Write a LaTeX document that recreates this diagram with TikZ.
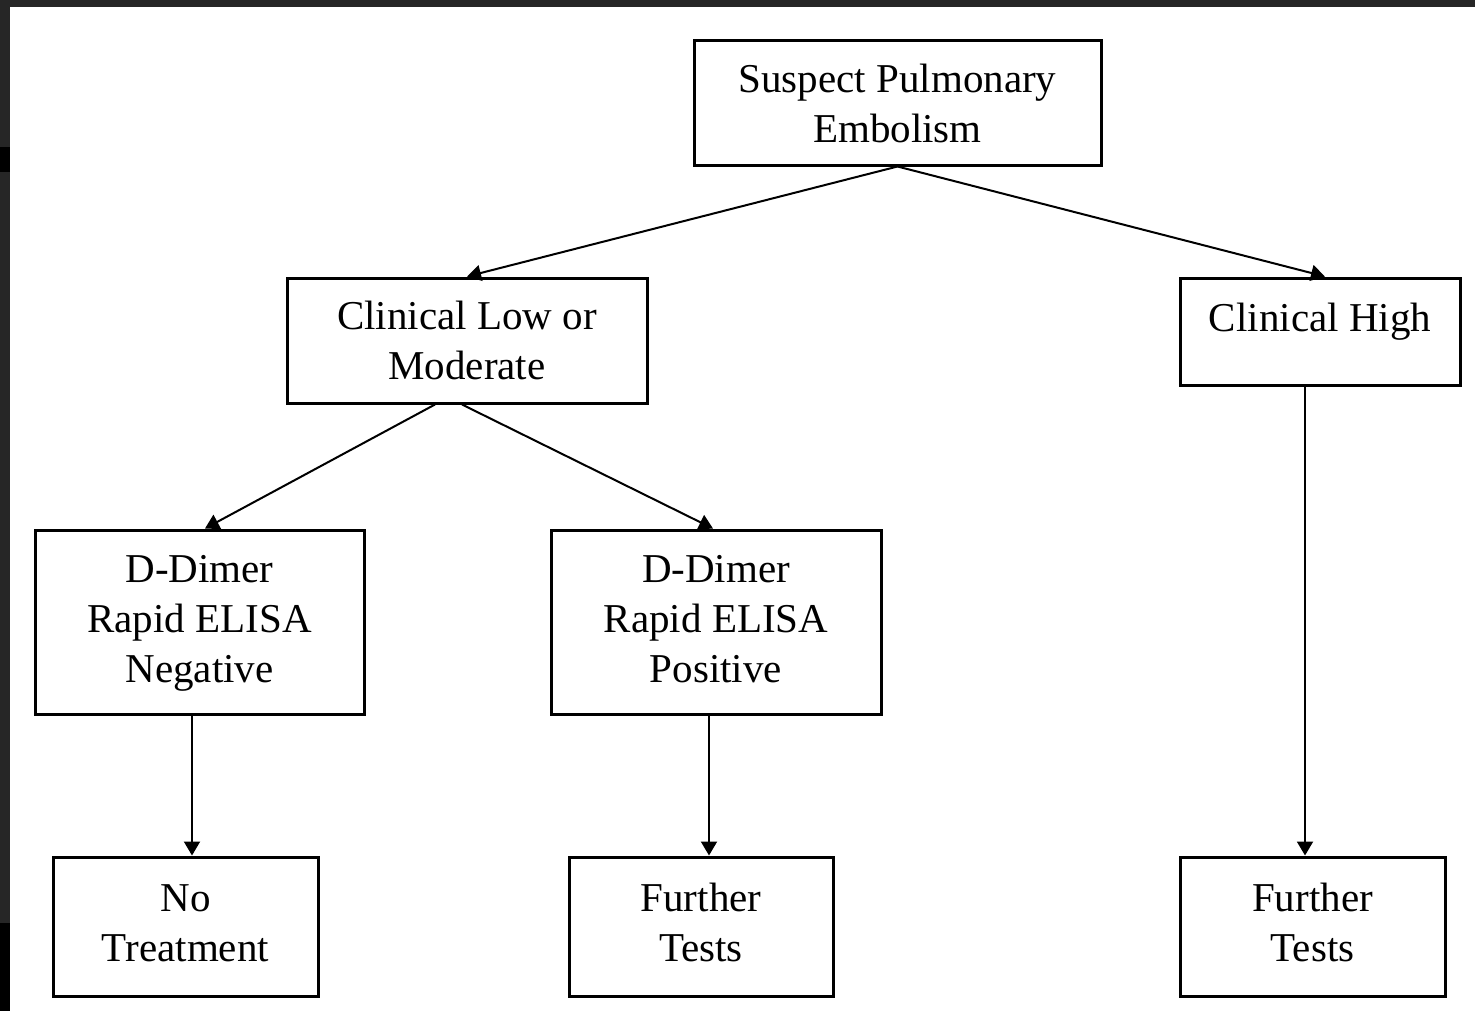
\documentclass[tikz,border=0pt]{standalone}
\usepackage{fontspec}
\setmainfont{Liberation Serif}
\usetikzlibrary{calc,arrows.meta}

\begin{document}
\begin{tikzpicture}[
x=0.5pt, y=-0.5pt,
block/.style={
draw,
fill=white,
rectangle,
line width=1.5pt,
align=center,
inner sep=0pt,
font=\fontsize{20.5}{25}\selectfont},
link/.style={
line width=1pt,
-{Triangle[length=7pt,width=8pt]}}
]

% frame
\fill[black!85] (0,0) rectangle (1475,1011);
\fill[black] (0,923) rectangle (10,1011);
\fill[black] (0,147) rectangle (10,172);
\fill[white] (10,7) rectangle (1475,1011);
\useasboundingbox (0,0) rectangle (1475,1011);

\draw (897.5,103)node[block, minimum width=203.5pt, minimum height=62pt] (pe){Suspect Pulmonary\\Embolism};
\draw (467,340.5)node[block, minimum width=180pt, minimum height=62.5pt] (low){Clinical Low or\\Moderate};
\draw (1320,331.5)node[block, minimum width=140pt, minimum height=53.5pt, text height=14pt, text depth=14pt] (high){Clinical High};
\draw (199.5,622)node[block, minimum width=164.5pt, minimum height=92pt] (neg){\strut D-Dimer\\Rapid ELISA\\Negative\strut};
\draw (716,622)node[block, minimum width=165pt, minimum height=92pt] (pos){\strut D-Dimer\\Rapid ELISA\\Positive\strut};
\draw (185.5,926.5)node[block, minimum width=132.5pt, minimum height=69.5pt] (notr){\strut No\\Treatment\strut};
\draw (701,926.5)node[block, minimum width=132pt, minimum height=69.5pt] (ftmid){\strut Further\\Tests\strut};
\draw (1312.5,926.5)node[block, minimum width=132.5pt, minimum height=69.5pt] (ftright){\strut Further\\Tests\strut};

% connectors
\draw[link] (pe.south) -- (low.north);
\draw[link] (pe.south) -- ($(high.north)+(5,0)$);
\draw[link] ($(low.south)+(-32,0)$) -- ($(neg.north)+(5.5,0)$);
\draw[link] ($(low.south)+(-5,0)$) -- ($(pos.north)+(-3,0)$);
\draw[link] ($(neg.south)+(-7.5,0)$) -- ($(notr.north)+(6.5,0)$);
\draw[link] ($(pos.south)+(-7,0)$) -- ($(ftmid.north)+(8,0)$);
\draw[link] ($(high.south)+(-15,0)$) -- ($(ftright.north)+(-7.5,0)$);

\end{tikzpicture}
\end{document}
